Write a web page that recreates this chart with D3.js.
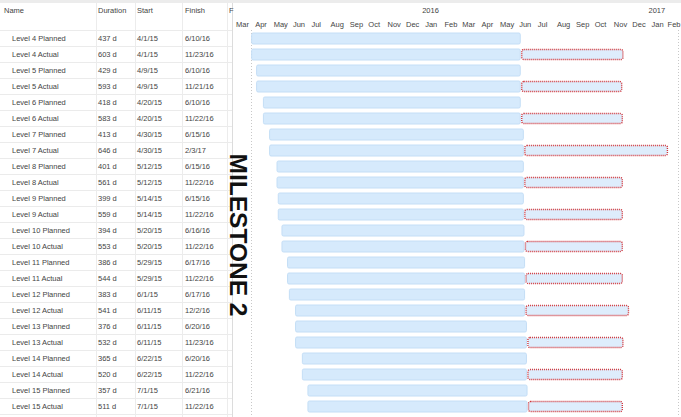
<!DOCTYPE html>
<html><head><meta charset="utf-8">
<script src="https://cdn.jsdelivr.net/npm/d3@7"></script>
<style>
body{margin:0;background:#fff;}
svg{display:block;font-family:"Liberation Sans",Arial,Helvetica,sans-serif;}
</style></head>
<body><svg id="c" width="681" height="417"></svg>
<script>
const names = ["Level 4 Planned","Level 4 Actual","Level 5 Planned","Level 5 Actual","Level 6 Planned","Level 6 Actual","Level 7 Planned","Level 7 Actual","Level 8 Planned","Level 8 Actual","Level 9 Planned","Level 9 Actual","Level 10 Planned","Level 10 Actual","Level 11 Planned","Level 11 Actual","Level 12 Planned","Level 12 Actual","Level 13 Planned","Level 13 Actual","Level 14 Planned","Level 14 Actual","Level 15 Planned","Level 15 Actual"];
const durations = ["437 d","603 d","429 d","593 d","418 d","583 d","413 d","646 d","401 d","561 d","399 d","559 d","394 d","553 d","386 d","544 d","383 d","541 d","376 d","532 d","365 d","520 d","357 d","511 d"];
const starts = ["4/1/15","4/1/15","4/9/15","4/9/15","4/20/15","4/20/15","4/30/15","4/30/15","5/12/15","5/12/15","5/14/15","5/14/15","5/20/15","5/20/15","5/29/15","5/29/15","6/1/15","6/11/15","6/11/15","6/11/15","6/22/15","6/22/15","7/1/15","7/1/15"];
const finishes = ["6/10/16","11/23/16","6/10/16","11/21/16","6/10/16","11/22/16","6/15/16","2/3/17","6/15/16","11/22/16","6/15/16","11/22/16","6/16/16","11/22/16","6/17/16","11/22/16","6/17/16","12/2/16","6/20/16","11/23/16","6/20/16","11/22/16","6/21/16","11/22/16"];
const columns = ["Name","Duration","Start","Finish","F"];
const timeDomain = ["3/1/15","3/1/17"];
const markerDates = ["4/1/15","2/19/17"];
const milestoneLabel = "MILESTONE 2";

const parse = d3.timeParse("%-m/%-d/%y");
const svg = d3.select("#c");
const W = 681, H = 417, headerH = 30, rowH = 16, ganttX0 = 232;

const rows = names.map((n,i)=>({name:n, dur:durations[i], start:starts[i], finish:finishes[i],
  s:parse(starts[i]), f:parse(finishes[i]), actual:/Actual/.test(n), level:n.replace(/ (Planned|Actual)/,"")}));
const plannedFinish = {};
rows.forEach(r=>{ if(!r.actual) plannedFinish[r.level]=r.f; });

const x = d3.scaleTime().domain(timeDomain.map(parse)).range([ganttX0, 684]);
const y = d3.scaleBand().domain(d3.range(rows.length)).range([headerH, headerH+rows.length*rowH]);

// top strip
svg.append("rect").attr("x",0).attr("y",0).attr("width",W).attr("height",3).attr("fill","#ececec");

// table grid
const colX = [4,98,137,185,229];
const sepX = [96,135,182,227,232];
const grid = svg.append("g");
rows.forEach((r,i)=>{
  grid.append("line").attr("x1",0).attr("x2",ganttX0).attr("y1",y(i)+0.5).attr("y2",y(i)+0.5).attr("stroke","#ebebeb");
});
grid.append("line").attr("x1",0).attr("x2",ganttX0).attr("y1",y(rows.length-1)+rowH+0.5).attr("y2",y(rows.length-1)+rowH+0.5).attr("stroke","#ebebeb");
sepX.forEach(sx=>{
  grid.append("line").attr("x1",sx+0.5).attr("x2",sx+0.5).attr("y1",3).attr("y2",H).attr("stroke", sx===ganttX0?"#dcdcdc":"#ececec");
});

// headers
svg.append("g").selectAll("text").data(columns).join("text")
  .attr("x",(d,i)=>colX[i]).attr("y",13).attr("font-size",7.5).attr("fill","#444").text(d=>d);

// time header
const years = x.ticks(d3.timeYear).filter(d=>d>x.domain()[0]);
svg.append("g").selectAll("text").data(years).join("text")
  .attr("x",d=>x(d)+1).attr("y",13).attr("font-size",7.5).attr("fill","#444").text(d3.timeFormat("%Y"));
const months = d3.timeMonth.range(x.domain()[0], x.domain()[1]);
svg.append("g").selectAll("text").data(months).join("text")
  .attr("x",d=>x(d)+4).attr("y",27).attr("font-size",7.5).attr("fill","#444").text(d3.timeFormat("%b"))
  .each(function(){
    const w = this.getComputedTextLength();
    const cx = +this.getAttribute("x");
    if(cx + w > W - 0.5) this.setAttribute("x", W - 0.5 - w);
  });

// marker lines
svg.append("g").selectAll("line").data(markerDates.map(parse)).join("line")
  .attr("x1",d=>Math.round(x(d))+0.5).attr("x2",d=>Math.round(x(d))+0.5)
  .attr("y1",headerH).attr("y2",H).attr("stroke","#c8c8c8").attr("stroke-dasharray","1,2");

// row texts
const rt = svg.append("g").attr("font-size",7.5).attr("fill","#444");
rows.forEach((r,i)=>{
  const by = y(i)+rowH/2+2.8;
  rt.append("text").attr("x",12).attr("y",by).text(r.name);
  rt.append("text").attr("x",colX[1]).attr("y",by).text(r.dur);
  rt.append("text").attr("x",colX[2]).attr("y",by).text(r.start);
  rt.append("text").attr("x",colX[3]).attr("y",by).text(r.finish);
});

// bars
const bars = svg.append("g");
rows.forEach((r,i)=>{
  const top = y(i)+2.5, bh = 11;
  const pf = r.actual ? plannedFinish[r.level] : r.f;
  bars.append("rect").attr("x",x(r.s)+0.5).attr("y",top+0.5).attr("width",x(pf)-x(r.s)-1).attr("height",bh)
    .attr("rx",1.5).attr("fill","#d6eafc").attr("stroke","#c4def6").attr("stroke-width",1);
  if(r.actual){
    bars.append("rect").attr("x",x(pf)+1).attr("y",top+1).attr("width",x(r.f)-x(pf)-1.5).attr("height",bh-1)
      .attr("rx",2).attr("fill","#deedfc").attr("stroke","#d0343a").attr("stroke-width",1.4).attr("stroke-dasharray","1,1");
  }
});

// milestone label
svg.append("text").attr("transform","translate(229.5,235) rotate(90)")
  .attr("text-anchor","middle").attr("font-size",24.5).attr("font-weight","bold").attr("fill","#111")
  .text(milestoneLabel);
</script></body></html>
